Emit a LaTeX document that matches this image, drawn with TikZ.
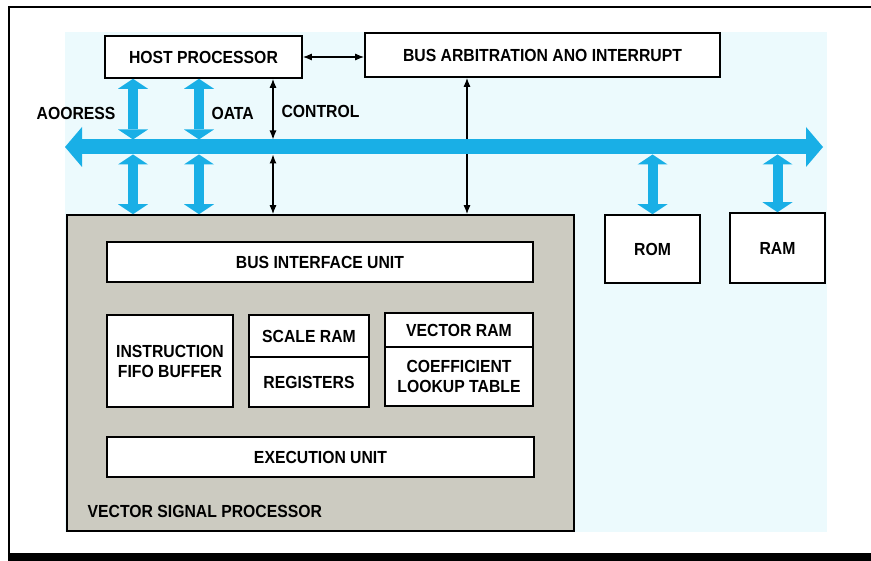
\documentclass[tikz,border=0pt]{standalone}
\usepackage{fontspec}
\setmainfont{Liberation Sans}[FakeStretch=0.9]
\usetikzlibrary{arrows.meta,positioning}
\definecolor{busblue}{RGB}{25,175,230}
\definecolor{bgblue}{RGB}{236,250,253}
\definecolor{vspgray}{RGB}{204,203,193}

\begin{document}
\begin{tikzpicture}[x=1pt, y=-1pt,
  every node/.style={font=\fontsize{17.5}{20}\selectfont\bfseries},
  box/.style={draw, line width=1.6pt, fill=white, align=center, inner sep=0pt},
  fat/.style={busblue, line width=10pt,
    {Triangle[width=30pt,length=10pt,line width=0pt]}-{Triangle[width=30pt,length=10pt,line width=0pt]}},
  sig/.style={line width=1.2pt, {Latex[length=9pt,width=7pt]}-{Latex[length=9pt,width=7pt]}}]
\useasboundingbox (0,0) rectangle (871,561);
% frame and backdrop
\draw[line width=1.5pt] (871,7) -- (9,7) -- (9,556);
\fill (8,553) rectangle (871,561);
\fill[bgblue] (65,32) rectangle (827,532);
% blocks on the bus
\node[box, minimum width=197pt, minimum height=42pt] (host) at (203.5,57) {HOST PROCESSOR};
\node[box, minimum width=355pt, minimum height=44pt] (arb) at (542.5,55) {BUS ARBITRATION ANO INTERRUPT};
\node[box, minimum width=95pt, minimum height=68pt] (rom) at (652.5,249) {ROM};
\node[box, minimum width=95pt, minimum height=70pt] (ram) at (777.5,248) {RAM};
% the processor
\node[box, fill=vspgray, minimum width=507pt, minimum height=316pt] (vsp) at (320.5,373) {};
\node[box, minimum width=426pt, minimum height=40pt] (biu) at (320,262) {BUS INTERFACE UNIT};
\node[box, minimum width=126pt, minimum height=92pt] (fifo) at (170,361) {INSTRUCTION\\FIFO BUFFER};
\node[box, minimum width=120pt, minimum height=42pt] (sram) at (309,336) {SCALE RAM};
\node[box, minimum width=120pt, minimum height=50pt] (regs) at (309,382) {REGISTERS};
\node[box, minimum width=148pt, minimum height=34pt] (vram) at (459,330) {VECTOR RAM};
\node[box, minimum width=148pt, minimum height=59pt] (coef) at (459,376.5) {COEFFICIENT\\LOOKUP TABLE};
\node[box, minimum width=427pt, minimum height=40pt] (exe) at (320.5,457) {EXECUTION UNIT};
\node[anchor=base west] (vsplbl) at ([xshift=18pt,yshift=14pt]vsp.south west) {VECTOR SIGNAL PROCESSOR};
% bus and taps
\coordinate (busL) at (65,147); \coordinate (busR) at (823,147);
\coordinate (adr) at (133,147); \coordinate (dat) at (199,147);
\coordinate (ctl) at (273,147); \coordinate (irq) at (467,147);
\coordinate (romtap) at (busL -| rom.north); \coordinate (ramtap) at (busL -| ram.north);
\draw[sig] (host.east) -- (host.east -| arb.west);
\draw[sig] (arb.south -| irq) -- (vsp.north -| irq);
\draw[busblue, line width=15pt,
  {Triangle[width=40pt,length=17pt,line width=0pt]}-{Triangle[width=40pt,length=17pt,line width=0pt]}] (busL) -- (busR);
\draw[fat] (host.south -| adr) -- ([yshift=7.5pt]adr);
\draw[fat] ([yshift=-7.5pt]adr) -- (vsp.north -| adr);
\draw[fat] (host.south -| dat) -- ([yshift=7.5pt]dat);
\draw[fat] ([yshift=-7.5pt]dat) -- (vsp.north -| dat);
\draw[sig] (host.south -| ctl) -- ([yshift=7.5pt]ctl);
\draw[sig] ([yshift=-7.5pt]ctl) -- (vsp.north -| ctl);
\draw[fat] ([yshift=-7.5pt]romtap) -- (rom.north);
\draw[fat] ([yshift=-7.5pt]ramtap) -- (ram.north);
% bus labels
\node[anchor=east] (adrlbl) at (119,113) {AOORESS};
\node[anchor=west] (datlbl) at (208,113) {OATA};
\node[anchor=west] (ctllbl) at (278,111) {CONTROL};
\end{tikzpicture}
\end{document}
